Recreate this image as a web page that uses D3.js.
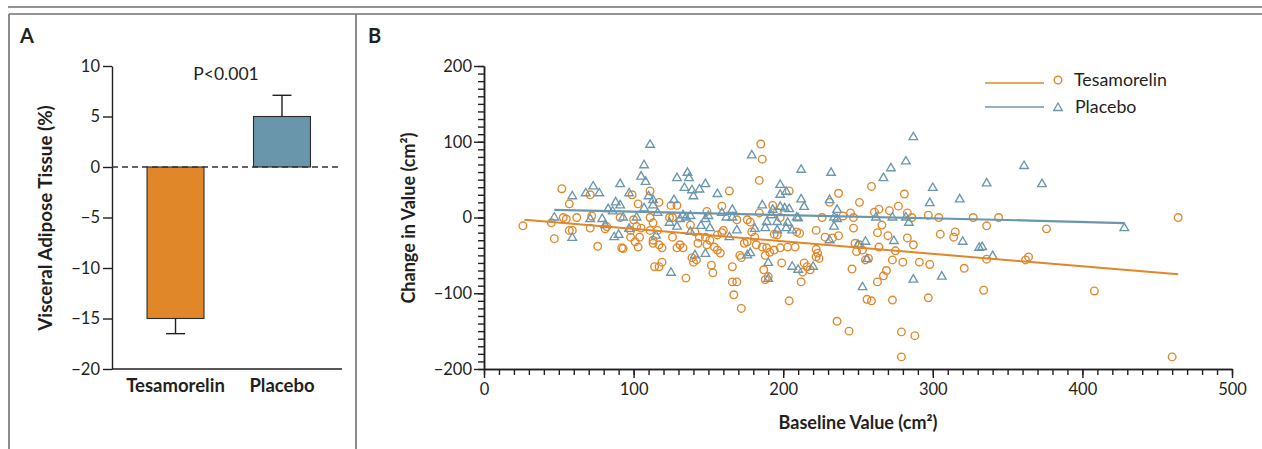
<!DOCTYPE html>
<html>
<head>
<meta charset="utf-8">
<script src="https://cdn.jsdelivr.net/npm/d3@7"></script>
<style>
  html, body { margin: 0; padding: 0; background: #fff; }
  svg { display: block; }
  text { font-family: Lato, "Open Sans", sans-serif; fill: #231f20; }
</style>
</head>
<body>
<svg id="chart" width="1262" height="449"></svg>
<script>
// ---------------- Panel A data ----------------
const groups = ["Tesamorelin", "Placebo"];
const meanChange = [-15.0, 5.0];
const errorEnd = [-16.5, 7.1];
const barTicks = [-20, -15, -10, -5, 0, 5, 10];

// ---------------- Panel B data ----------------
const tesBaseline = [26,52,57,47,45,53,55,62,57,59,71,71,72,76,81,82,91,92,93,99,98,98,
  111,103,117,125,129,149,159,164,
  100,102,105,104,101,103,
  111,113,111,116,113,119,117,113,
  114,117,119,124,126,
  126,131,129,133,
  138,141,144,143,
  139,140,142,135,
  148,151,149,154,152,153,
  156,158,159,156,160,
  166,166,169,171,172,174,176,169,
  185,186,184,204,237,251,231,193,184,178,198,196,226,240,245,247,247,222,237,233,228,196,194,209,211,179,181,176,182,186,189,191,188,194,198,203,208,222,223,222,224,199,214,216,213,218,187,190,188,212,246,249,251,253,248,
  167,172,204,236,244,256,259,263,273,279,279,288,297,
  259,281,261,264,271,277,283,286,297,304,327,266,263,270,283,287,305,314,315,264,255,257,275,273,280,291,298,269,267,321,
  344,336,376,464,336,362,364,408,460,334];
const tesChange = [-11,38,18,-28,-7,0,-2,0,-17,-17,30,-14,2,-38,-15,-12,0,-40,-41,30,-17,-26,
  35,18,20,16,16,8,15,35,
  -3,-12,-14,-26,-32,-39,
  0,-7,-17,-17,-30,-40,-36,-34,
  -65,-65,-59,0,0,
  -26,-36,-40,-40,
  -10,-19,-26,-34,
  -53,-59,-56,-80,
  -26,-30,-36,-39,-63,-73,
  -43,-47,-20,-23,-17,
  -65,-85,-85,-50,-53,-34,-3,-3,
  97,77,49,35,32,20,20,16,6,-6,0,7,0,2,6,0,-14,-17,-24,-27,-26,-23,-22,-19,-21,-19,-26,-32,-36,-39,-40,-46,-50,-43,-40,-39,-39,-42,-47,-52,-54,-60,-60,-65,-72,-69,-69,-78,-82,-85,-68,-45,-36,-43,-34,
  -102,-120,-110,-137,-150,-108,-110,-85,-109,-151,-184,-156,-106,
  41,31,7,11,9,15,6,0,3,0,0,-10,-20,-24,-27,-36,-22,-26,-19,-39,-56,-54,-44,-56,-59,-59,-62,-70,-77,-67,
  0,-11,-15,0,-55,-56,-52,-97,-184,-96];

const plaBaseline = [47,59,59,68,73,77,71,79,81,83,88,91,87,91,90,97,93,97,86,
  111,107,105,108,110,113,113,107,102,116,129,136,137,134,139,140,144,148,156,127,133,135,138,131,124,129,138,145,151,148,150,159,162,166,166,169,164,115,141,148,125,179,176,
  212,232,198,198,202,231,212,214,186,193,198,201,204,192,189,196,203,209,210,206,202,181,188,196,236,234,236,234,231,178,190,206,210,220,190,250,253,
  287,287,282,272,267,300,298,318,262,273,282,284,255,256,274,320,306,331,
  361,336,373,428,333,340];
const plaChange = [0,28,-27,32,41,32,-2,-2,-10,11,20,16,-26,44,-23,32,0,-15,8,
  96,69,54,47,28,23,16,12,0,6,52,59,52,39,36,28,37,44,31,23,3,0,2,-2,-7,-12,-19,-11,-14,-2,2,6,0,10,0,-17,-26,-24,-50,-48,-73,82,-50,
  63,59,43,30,34,23,24,14,16,10,14,12,11,3,-6,-6,-7,0,-1,-17,-14,-15,-14,-17,10,0,-2,-12,-30,-47,-60,-65,-69,-65,-81,-36,-92,
  -82,106,74,65,52,39,19,24,0,0,0,-7,-32,-55,-31,-32,-78,-40,
  68,45,44,-14,-39,-51];

// fitted lines
const tesFitX = [27, 464];
const tesFitY = [-3, -75];
const plaFitX = [47, 365, 428];
const plaFitY = [10, -4, -7.5];

const xTicksB = [0, 100, 200, 300, 400, 500];
const yTicksB = [-200, -100, 0, 100, 200];

// ---------------- styles ----------------
const ORANGE = "#e0872a";
const BLUE = "#6a97ad";
const INK = "#231f20";
const FRAME = "#6f6f6f";
const TICKFONT = 16.5;

const svg = d3.select("#chart");

// ---------------- frame ----------------
const frame = svg.append("g").attr("stroke", FRAME).attr("stroke-width", 1.6).attr("fill", "none");
frame.append("line").attr("x1", 8).attr("x2", 1262).attr("y1", 7).attr("y2", 7);
frame.append("line").attr("x1", 9).attr("x2", 1262).attr("y1", 14).attr("y2", 14);
frame.append("line").attr("x1", 9).attr("x2", 9).attr("y1", 14).attr("y2", 449);
frame.append("line").attr("x1", 356).attr("x2", 356).attr("y1", 14).attr("y2", 449);

svg.append("text").attr("x", 20).attr("y", 43).attr("font-size", 20).attr("font-weight", 700).text("A");
svg.append("text").attr("x", 368).attr("y", 43).attr("font-size", 20).attr("font-weight", 700).text("B");

// ---------------- Panel A ----------------
const yA = d3.scaleLinear().domain([-20, 10]).range([369, 66]);
const xA = d3.scaleBand().domain(groups).range([112, 345.5]).paddingInner(0.465).paddingOuter(0.329);

const gA = svg.append("g");
const axA = gA.append("g").attr("transform", "translate(112,0)")
  .call(d3.axisLeft(yA).tickValues(barTicks).tickSize(9).tickPadding(3).tickSizeOuter(0));
axA.select(".domain").attr("stroke", INK).attr("stroke-width", 1.4);
axA.selectAll(".tick line").attr("stroke", INK).attr("stroke-width", 1.4);
axA.selectAll(".tick text").attr("font-size", TICKFONT).attr("fill", INK)
  .style("font-family", "Lato, 'Open Sans', sans-serif");

// x axis line
gA.append("line").attr("x1", 112).attr("x2", 342).attr("y1", yA(-20)).attr("y2", yA(-20))
  .attr("stroke", INK).attr("stroke-width", 1.4);

const barColors = [ORANGE, "#6a96ac"];
gA.selectAll("rect.bar").data(groups).join("rect")
  .attr("class", "bar")
  .attr("x", d => xA(d))
  .attr("width", xA.bandwidth())
  .attr("y", (d, i) => yA(Math.max(0, meanChange[i])))
  .attr("height", (d, i) => Math.abs(yA(meanChange[i]) - yA(0)))
  .attr("fill", (d, i) => barColors[i])
  .attr("stroke", "#2b2b2b").attr("stroke-width", 1.1);

// error bars
groups.forEach((g, i) => {
  const cx = xA(g) + xA.bandwidth() / 2;
  gA.append("line").attr("x1", cx).attr("x2", cx)
    .attr("y1", yA(meanChange[i])).attr("y2", yA(errorEnd[i]))
    .attr("stroke", INK).attr("stroke-width", 1.4);
  gA.append("line").attr("x1", cx - 9.5).attr("x2", cx + 9.5)
    .attr("y1", yA(errorEnd[i])).attr("y2", yA(errorEnd[i]))
    .attr("stroke", INK).attr("stroke-width", 1.4);
});

// zero dashed line
gA.append("line").attr("x1", 112).attr("x2", 342).attr("y1", yA(0)).attr("y2", yA(0))
  .attr("stroke", "#333").attr("stroke-width", 1.3).attr("stroke-dasharray", "6,4");

gA.append("text").attr("x", 226).attr("y", 80).attr("text-anchor", "middle")
  .attr("font-size", 17.5).text("P<0.001");

groups.forEach(g => {
  gA.append("text").attr("x", xA(g) + xA.bandwidth() / 2).attr("y", 391.5)
    .attr("text-anchor", "middle").attr("font-size", 18.5).attr("font-weight", 700).text(g);
});

gA.append("text").attr("transform", "translate(51.5,218) rotate(-90)")
  .attr("text-anchor", "middle").attr("font-size", 18.8).attr("font-weight", 700)
  .text("Visceral Adipose Tissue (%)");

// ---------------- Panel B ----------------
const xB = d3.scaleLinear().domain([0, 500]).range([484, 1232]);
const yB = d3.scaleLinear().domain([-200, 200]).range([369, 66]);
const gB = svg.append("g");

function styleAxis(sel) {
  sel.select(".domain").attr("stroke", INK).attr("stroke-width", 1.5);
  sel.selectAll(".tick line").attr("stroke", INK).attr("stroke-width", 1.4);
  sel.selectAll(".tick text").attr("font-size", TICKFONT).attr("fill", INK)
    .style("font-family", "Lato, 'Open Sans', sans-serif");
}

// minor ticks
const yMinor = d3.range(-200, 201, 10);
const xMinor = d3.range(0, 501, 10);
const ayMin = gB.append("g").attr("transform", "translate(484,0)")
  .call(d3.axisLeft(yB).tickValues(yMinor).tickSize(6).tickFormat(() => "").tickSizeOuter(0));
styleAxis(ayMin);
const axMin = gB.append("g").attr("transform", `translate(0,${yB(-200)})`)
  .call(d3.axisBottom(xB).tickValues(xMinor).tickSize(6).tickFormat(() => "").tickSizeOuter(0));
styleAxis(axMin);
// major ticks
const ayMaj = gB.append("g").attr("transform", "translate(484,0)")
  .call(d3.axisLeft(yB).tickValues(yTicksB).tickSize(10).tickPadding(2).tickSizeOuter(0));
styleAxis(ayMaj);
const axMaj = gB.append("g").attr("transform", `translate(0,${yB(-200)})`)
  .call(d3.axisBottom(xB).tickValues(xTicksB).tickSize(9).tickPadding(5).tickSizeOuter(0));
styleAxis(axMaj);

// points
const tesPts = tesBaseline.map((x, i) => [x, tesChange[i]]);
const plaPts = plaBaseline.map((x, i) => [x, plaChange[i]]);

gB.append("g").selectAll("circle").data(tesPts).join("circle")
  .attr("cx", d => xB(d[0])).attr("cy", d => yB(d[1])).attr("r", 3.8)
  .attr("fill", "none").attr("stroke", ORANGE).attr("stroke-width", 1.35);

const tri = d3.symbol().type(d3.symbolTriangle).size(32);
gB.append("g").selectAll("path").data(plaPts).join("path")
  .attr("d", tri).attr("transform", d => `translate(${xB(d[0])},${yB(d[1])})`)
  .attr("fill", "none").attr("stroke", BLUE).attr("stroke-width", 1.35);

// fitted lines
const lineGen = d3.line().x(d => xB(d[0])).y(d => yB(d[1]));
gB.append("path").datum(tesFitX.map((x, i) => [x, tesFitY[i]]))
  .attr("d", lineGen).attr("fill", "none").attr("stroke", ORANGE).attr("stroke-width", 2);
gB.append("path").datum(plaFitX.map((x, i) => [x, plaFitY[i]]))
  .attr("d", lineGen).attr("fill", "none").attr("stroke", BLUE).attr("stroke-width", 2.2);

// axis titles
gB.append("text").attr("x", 858).attr("y", 429).attr("text-anchor", "middle")
  .attr("font-size", 18).attr("font-weight", 700).text("Baseline Value (cm²)");
gB.append("text").attr("transform", "translate(414.5,218) rotate(-90)")
  .attr("text-anchor", "middle").attr("font-size", 18).attr("font-weight", 700)
  .text("Change in Value (cm²)");

// legend
const leg = gB.append("g");
leg.append("line").attr("x1", 985).attr("x2", 1044).attr("y1", 83).attr("y2", 83)
  .attr("stroke", ORANGE).attr("stroke-width", 1.6);
leg.append("circle").attr("cx", 1058).attr("cy", 80).attr("r", 3.8)
  .attr("fill", "none").attr("stroke", ORANGE).attr("stroke-width", 1.35);
leg.append("text").attr("x", 1074).attr("y", 86).attr("font-size", 17.8).text("Tesamorelin");
leg.append("line").attr("x1", 985).attr("x2", 1044).attr("y1", 107).attr("y2", 107)
  .attr("stroke", BLUE).attr("stroke-width", 1.6);
leg.append("path").attr("d", tri).attr("transform", "translate(1058,108)")
  .attr("fill", "none").attr("stroke", BLUE).attr("stroke-width", 1.35);
leg.append("text").attr("x", 1075).attr("y", 113).attr("font-size", 17.8).text("Placebo");
</script>
</body>
</html>
